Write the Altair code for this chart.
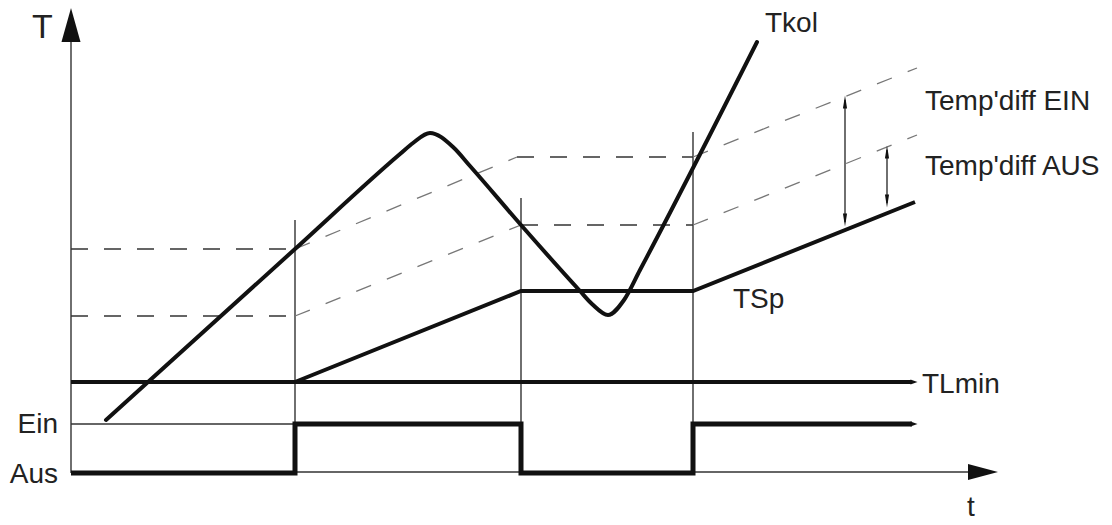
import altair as alt
import pandas as pd

# ---- geometry (image pixel units, y grows downward) ----
W, H = 1096, 515
X0, Y0 = 8, 8

# Tkol (collector temperature)
tkol_x = [106, 295, 400, 413, 430, 453, 470, 521, 580, 592, 608, 624, 640, 757]
tkol_y = [420, 249, 154, 143, 133, 147, 166, 225, 291, 304, 315, 300, 270, 42]

# TSp (storage temperature)
tsp_x = [295, 521, 693, 915]
tsp_y = [382, 291, 291, 202]

# TLmin
tlmin_x = [71, 912]
tlmin_y = [382, 382]

# pump switch signal Ein / Aus
sw_x = [71, 295, 295, 521, 521, 693, 693, 912]
sw_y = [473, 473, 424, 424, 473, 473, 424, 424]

# dashed switching thresholds
ein_x = [71, 295, 517, 693, 917]
ein_y = [249, 249, 157, 157, 68]
aus_x = [71, 295, 521, 693, 917]
aus_y = [316, 316, 225, 225, 135]

# thin construction lines (x, y, x2, y2)
thin_x1 = [71, 71, 71, 295, 521, 693, 845, 887]
thin_y1 = [42, 472, 424, 220, 198, 132, 100, 150]
thin_x2 = [71, 968, 295, 295, 521, 693, 845, 887]
thin_y2 = [473, 472, 424, 472, 472, 472, 222, 203]

# arrow heads: x, y, shape, angle
head_x = [71, 983, 845, 845, 887, 887, 914, 914]
head_y = [25, 472, 102, 220, 152, 201, 382, 424]
head_shape = ["up", "right", "small", "small", "small", "small", "tiny", "tiny"]
head_angle = [0, 0, 0, 180, 0, 180, 0, 0]

# labels
lab_text = ["Tkol", "Temp'diff EIN", "Temp'diff AUS", "TSp", "TLmin", "T"]
lab_x = [765, 925, 925, 733, 922, 32]
lab_y = [32, 110, 175, 308, 393, 38]
lab_fs = [28, 28, 28, 28, 28, 34]

rlab_text = ["Ein", "Aus"]
rlab_x = [58, 58]
rlab_y = [433, 483]

t_text = ["t"]
t_x = [971]
t_y = [516]

# ---- build tables ----
xs = alt.Scale(domain=[X0, X0 + W], nice=False, zero=False)
ys = alt.Scale(domain=[Y0, Y0 + H], nice=False, zero=False, reverse=True)
X = alt.X("x:Q", scale=xs, axis=None)
Y = alt.Y("y:Q", scale=ys, axis=None)


def poly(name, xv, yv):
    return pd.DataFrame({"id": name, "i": range(len(xv)), "x": xv, "y": yv})


def segs(name, xv, yv):
    rows = []
    for k in range(len(xv) - 1):
        rows.append({"id": f"{name}{k}", "x": xv[k], "y": yv[k], "x2": xv[k + 1], "y2": yv[k + 1],
                     "flat": yv[k] == yv[k + 1]})
    return rows


dash = pd.DataFrame(segs("ein", ein_x, ein_y) + segs("aus", aus_x, aus_y))
dash_flat = dash[dash["flat"]]
dash_slope = dash[~dash["flat"]]

thin = pd.DataFrame({"x": thin_x1, "y": thin_y1, "x2": thin_x2, "y2": thin_y2})

shape_paths = {
    "up": "M0,-1L0.56,1L-0.56,1Z",
    "right": "M1,0L-1,-0.53L-1,0.53Z",
    "small": "M0,-1L0.32,1L-0.32,1Z",
    "tiny": "M1,0L-1,-0.7L-1,0.7Z",
}
shape_sizes = {"up": 34 ** 2, "right": 30 ** 2, "small": 13 ** 2, "tiny": 7 ** 2}

head_layers = []
for key in shape_paths:
    df = pd.DataFrame({"x": head_x, "y": head_y, "s": head_shape, "a": head_angle})
    df = df[df["s"] == key]
    head_layers.append(
        alt.Chart(df).mark_point(shape=shape_paths[key], filled=True, opacity=1, size=shape_sizes[key],
                                 color="#111", strokeWidth=0)
        .encode(x=X, y=Y, angle=alt.Angle("a:Q", scale=None))
    )

thin_layer = alt.Chart(thin).mark_rule(color="#333", strokeWidth=1.4).encode(
    x=X, y=Y, x2="x2:Q", y2="y2:Q")

dash_flat_layer = alt.Chart(dash_flat).mark_rule(color="#333", strokeWidth=1.5, strokeDash=[17, 16]).encode(
    x=X, y=Y, x2="x2:Q", y2="y2:Q")
dash_slope_layer = alt.Chart(dash_slope).mark_rule(color="#777", strokeWidth=1.3, strokeDash=[16, 17]).encode(
    x=X, y=Y, x2="x2:Q", y2="y2:Q")

tkol_layer = alt.Chart(poly("Tkol", tkol_x, tkol_y)).mark_line(
    color="#111", strokeWidth=4, interpolate="monotone", strokeCap="round", strokeJoin="round").encode(
    x=X, y=Y, order="i:Q")

bold = pd.concat([poly("TSp", tsp_x, tsp_y), poly("TLmin", tlmin_x, tlmin_y)])
bold_layer = alt.Chart(bold).mark_line(color="#111", strokeWidth=4, strokeJoin="miter").encode(
    x=X, y=Y, detail="id:N", order="i:Q")

sw_layer = alt.Chart(poly("sw", sw_x, sw_y)).mark_line(color="#111", strokeWidth=5, strokeJoin="miter").encode(
    x=X, y=Y, order="i:Q")

lab = pd.DataFrame({"text": lab_text, "x": lab_x, "y": lab_y, "fs": lab_fs})
lab_layer = alt.Chart(lab).mark_text(align="left", baseline="alphabetic", font="Liberation Sans",
                                     color="#222").encode(
    x=X, y=Y, text="text:N", size=alt.Size("fs:Q", scale=None))

rlab = pd.DataFrame({"text": rlab_text, "x": rlab_x, "y": rlab_y})
rlab_layer = alt.Chart(rlab).mark_text(align="right", baseline="alphabetic", font="Liberation Sans",
                                       fontSize=28, color="#222").encode(x=X, y=Y, text="text:N")

tl = pd.DataFrame({"text": t_text, "x": t_x, "y": t_y})
t_layer = alt.Chart(tl).mark_text(align="center", baseline="alphabetic", font="Liberation Sans",
                                  fontSize=28, color="#222").encode(x=X, y=Y, text="text:N")

chart = alt.layer(
    thin_layer, dash_flat_layer, dash_slope_layer, bold_layer, sw_layer, tkol_layer,
    *head_layers, lab_layer, rlab_layer, t_layer
).properties(
    width=W, height=H, padding=0, autosize=alt.AutoSizeParams(type="none"), background="white"
).configure_view(stroke=None)

chart.save("out.html", embed_options={"renderer": "svg", "actions": False})
